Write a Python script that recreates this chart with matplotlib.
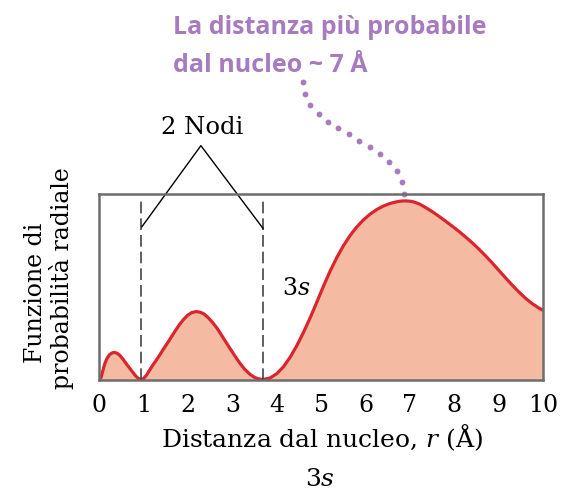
import numpy as np
import matplotlib.pyplot as plt

plt.rcParams['font.family'] = 'DejaVu Serif'
plt.rcParams['mathtext.fontset'] = 'dejavuserif'

# Funzione di probabilità radiale dell'orbitale 3s (unità arbitrarie)
r = [0.00, 0.04, 0.08, 0.12, 0.17, 0.23, 0.29, 0.34, 0.40, 0.46, 0.53, 0.60,
     0.68, 0.75, 0.82, 0.88, 0.94, 1.00, 1.07, 1.13, 1.20, 1.28, 1.35, 1.45,
     1.58, 1.70, 1.80, 1.90, 1.99, 2.08, 2.18, 2.28, 2.36, 2.45, 2.55, 2.65,
     2.75, 2.85, 2.95, 3.06, 3.17, 3.28, 3.40, 3.50, 3.60, 3.70, 3.85, 4.00,
     4.15, 4.30, 4.45, 4.60, 4.75, 4.90, 5.05, 5.20, 5.35, 5.50, 5.65, 5.80,
     5.95, 6.10, 6.25, 6.40, 6.55, 6.70, 6.80, 6.90, 7.05, 7.20, 7.35, 7.50,
     7.65, 7.80, 7.95, 8.10, 8.25, 8.40, 8.55, 8.70, 8.85, 9.00, 9.15, 9.30,
     9.45, 9.60, 9.75, 9.90, 10.0]
prob = [0.000, 0.015, 0.050, 0.085, 0.115, 0.136, 0.146, 0.148, 0.144, 0.133, 0.113, 0.090,
        0.065, 0.043, 0.022, 0.008, 0.003, 0.008, 0.028, 0.052, 0.078, 0.105, 0.130, 0.168,
        0.215, 0.260, 0.296, 0.326, 0.348, 0.362, 0.368, 0.364, 0.355, 0.336, 0.310, 0.280,
        0.243, 0.205, 0.168, 0.128, 0.090, 0.057, 0.030, 0.014, 0.005, 0.003, 0.011, 0.034,
        0.071, 0.122, 0.184, 0.255, 0.333, 0.417, 0.503, 0.584, 0.657, 0.721, 0.776, 0.822,
        0.860, 0.891, 0.916, 0.935, 0.949, 0.958, 0.962, 0.963, 0.960, 0.948, 0.928, 0.906,
        0.881, 0.855, 0.828, 0.800, 0.770, 0.739, 0.705, 0.669, 0.631, 0.591, 0.551, 0.512,
        0.475, 0.441, 0.412, 0.388, 0.375]

nodi = [0.95, 3.68]
xticks = list(range(11))

rosso = '#d9262e'
pesca = '#f5bba2'
viola = '#a77bbf'

fig = plt.figure(figsize=(5.63, 4.93), dpi=100)
ax = fig.add_axes([0.1764, 0.2292, 0.788, 0.3773])

ax.fill_between(r, prob, 0, color=pesca, lw=0)
ax.plot(r, prob, color=rosso, lw=2.3, solid_capstyle='round', solid_joinstyle='round')

# linee tratteggiate sui nodi
ax.vlines(nodi, 0, 0.97, colors='#444444', lw=1.2, linestyles=(0, (7, 3)))

ax.set_xlim(0, 10)
ax.set_ylim(0, 1)
ax.set_xticks(xticks)
ax.set_xticklabels([str(t) for t in xticks], fontsize=17)
ax.set_yticks([])
ax.tick_params(axis='x', length=0, pad=10)
for s in ax.spines.values():
    s.set_color('#6d6d6d')
    s.set_linewidth(1.8)

ax.text(4.43, 0.49, '3$s$', fontsize=17, ha='center', va='center')

# "2 Nodi" con le due linee verso i nodi
ax.text(2.32, 1.355, '2 Nodi', fontsize=17.5, ha='center', va='center')
ax.plot([nodi[0] + 0.01, 2.29, nodi[1] + 0.01], [0.824, 1.26, 0.815],
        color='black', lw=1.0, clip_on=False)

# richiamo puntinato viola verso il massimo: punti equidistanti su una Bézier cubica
p0, p1, p2, p3 = map(np.array, [(4.59, 1.60), (4.53, 1.33), (6.90, 1.29), (6.87, 1.00)])
t = np.linspace(0, 1, 400)[:, None]
bez = (1 - t) ** 3 * p0 + 3 * (1 - t) ** 2 * t * p1 + 3 * (1 - t) * t ** 2 * p2 + t ** 3 * p3
seg = np.hypot(np.diff(bez[:, 0]) * 44.3, np.diff(bez[:, 1]) * 186)
s = np.concatenate([[0], np.cumsum(seg)])
s_punti = np.linspace(0, s[-1], 14)
px = np.interp(s_punti, s, bez[:, 0])
py = np.interp(s_punti, s, bez[:, 1])
ax.plot(px, py, 'o', color=viola, ms=4.2, mew=0, clip_on=False)

fig.text(173 / 563, 1 - 34 / 493, 'La distanza più probabile', color=viola,
         fontsize=18, fontweight='bold', family='Open Sans', va='baseline')
fig.text(173 / 563, 1 - 72 / 493, 'dal nucleo ~ 7 Å', color=viola,
         fontsize=18, fontweight='bold', family='Open Sans', va='baseline')

fig.text(322 / 563, 1 - 438 / 493, 'Distanza dal nucleo, $r$ (Å)',
         fontsize=18, ha='center', va='center')
fig.text(320 / 563, 1 - 479 / 493, '3$s$', fontsize=18, ha='center', va='center')
fig.text(36 / 563, 1 - 293 / 493, 'Funzione di', fontsize=17,
         ha='center', va='center', rotation=90)
fig.text(61 / 563, 1 - 278 / 493, 'probabilità radiale', fontsize=17,
         ha='center', va='center', rotation=90)

fig.savefig('out.png', dpi=100)
